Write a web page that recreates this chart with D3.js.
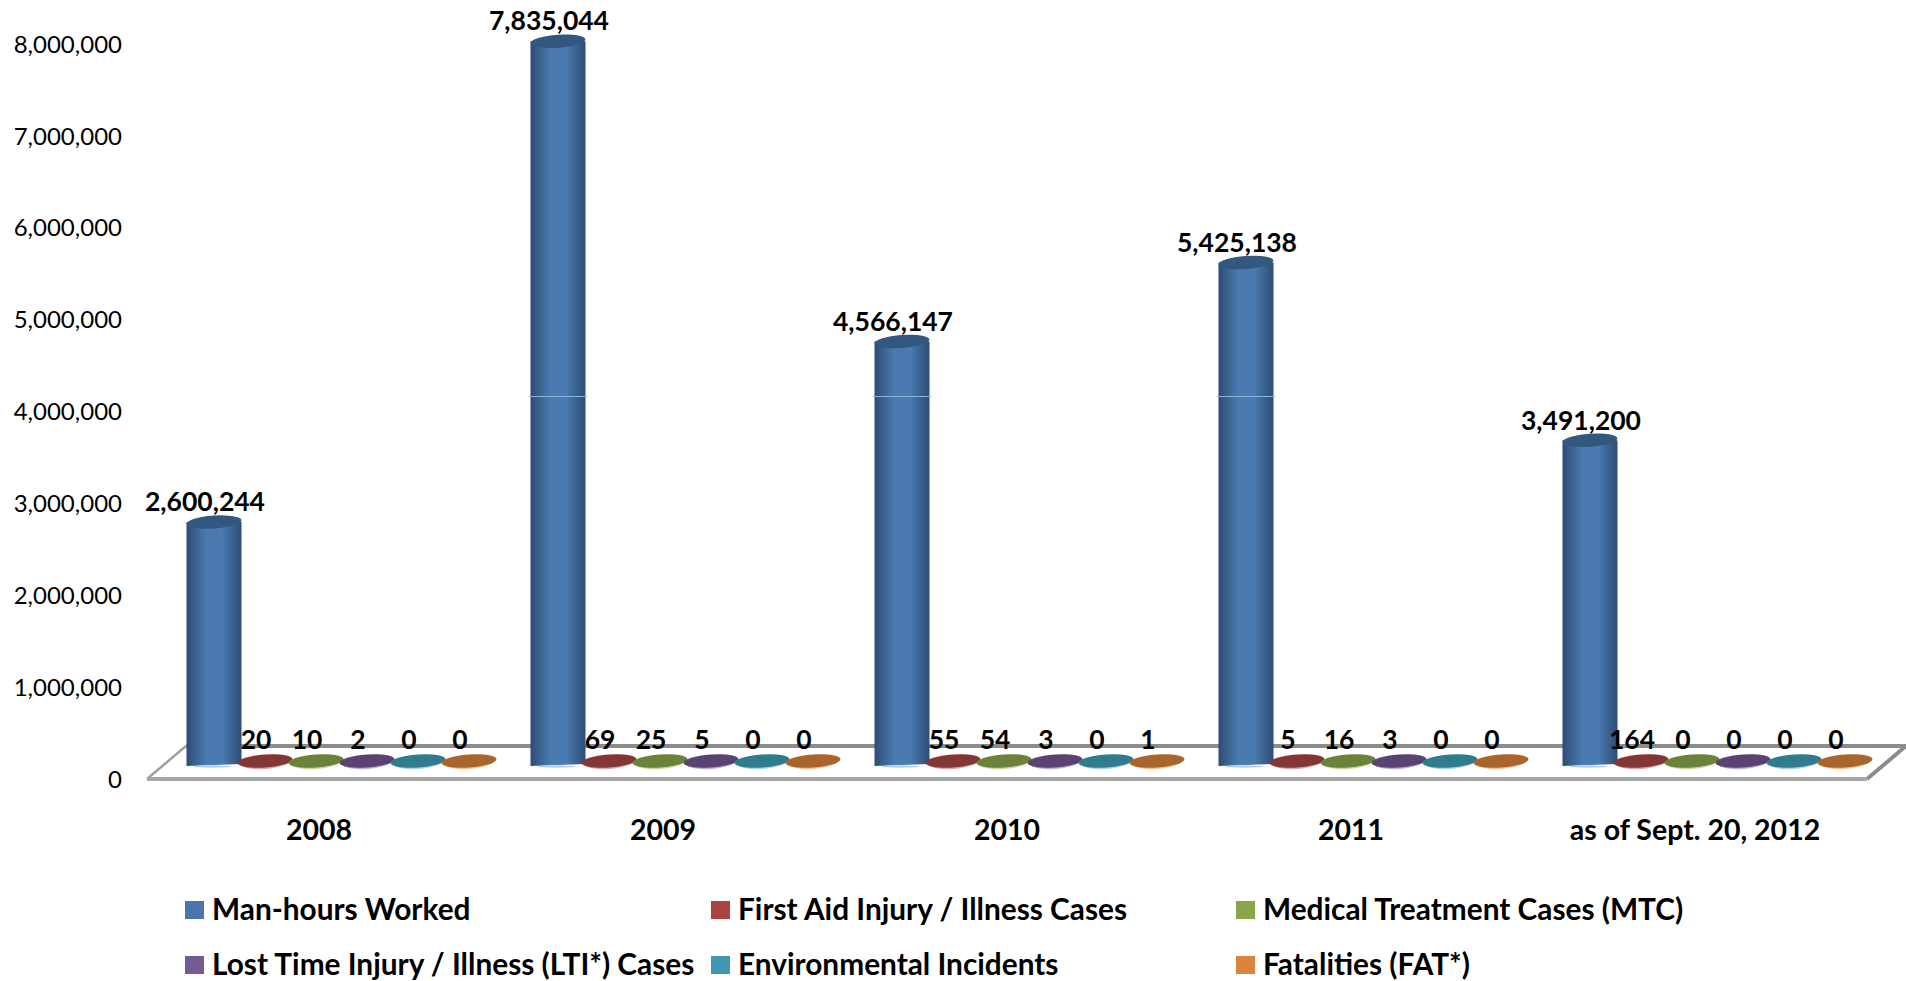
<!DOCTYPE html>
<html>
<head>
<meta charset="utf-8">
<script src="https://cdnjs.cloudflare.com/ajax/libs/d3/7.8.5/d3.min.js"></script>
<style>
  html, body { margin: 0; padding: 0; background: #fff; }
  svg { display: block; }
  text { font-family: Lato, "Noto Sans", sans-serif; fill: #000; }
  .tick text { font-size: 24px; }
  .lbl { font-size: 26.5px; font-weight: 700; text-anchor: middle; }
  .cat { font-size: 28.5px; font-weight: 700; text-anchor: middle; }
  .leg { font-size: 29.8px; font-weight: 700; }
</style>
</head>
<body>
<svg id="chart" width="1906" height="981"></svg>
<script>
const categories = ["2008", "2009", "2010", "2011", "as of Sept. 20, 2012"];
const seriesNames = ["Man-hours Worked", "First Aid Injury / Illness Cases", "Medical Treatment Cases (MTC)",
  "Lost Time Injury / Illness (LTI*) Cases", "Environmental Incidents", "Fatalities (FAT*)"];
const manHours = [2600244, 7835044, 4566147, 5425138, 3491200];
const firstAid = [20, 69, 55, 5, 164];
const medical = [10, 25, 54, 16, 0];
const lostTime = [2, 5, 3, 3, 0];
const environmental = [0, 0, 0, 0, 0];
const fatalities = [0, 0, 1, 0, 0];
const yTicks = [0, 1000000, 2000000, 3000000, 4000000, 5000000, 6000000, 7000000, 8000000];
const allSeries = [manHours, firstAid, medical, lostTime, environmental, fatalities];

const legendColors = ["#4a76ab", "#a94442", "#8aa64c", "#755a94", "#3f97b0", "#db843d"];
const sideColors = ["#2c4d75", "#6e2a2a", "#59702f", "#47335f", "#27677a", "#8f5220"];
const midColors = ["#4a7ab0", "#843535", "#6b8239", "#5a4272", "#317b8f", "#aa652c"];
const topColors = ["#33587f", "#843535", "#6b8239", "#5a4272", "#317b8f", "#aa652c"];
const rimColors = ["#b5cdea", "#d9a9a8", "#c6d6a0", "#bfaed4", "#a3d2e0", "#f0c39c"];

const svg = d3.select("#chart");
const defs = svg.append("defs");

// the front edge of the floor is the axis line, marks sit half way into it
const depthX = 39, depthY = 33;
const markX = 22.5, markY = 18;

const x0 = d3.scaleBand().domain(categories).range([147, 1867]);
const x1 = d3.scaleBand().domain(d3.range(6)).range([-153, 153]);
const y = d3.scaleLinear().domain([0, 8000000]).range([779, 44]);

const yAxis = d3.axisLeft(y).tickValues(yTicks).tickSize(0).tickPadding(0).tickFormat(d3.format(","));
svg.append("g").attr("transform", "translate(122,0)").call(yAxis)
  .call(g => g.select(".domain").remove())
  .selectAll("text").attr("font-family", null).attr("dy", "0.34em");
svg.selectAll(".tick text").attr("x", 0);

// floor
const floor = svg.append("g").attr("fill", "none");
floor.append("line")
  .attr("x1", x0.range()[0] + depthX).attr("x2", x0.range()[1] + depthX)
  .attr("y1", y(0) - depthY).attr("y2", y(0) - depthY)
  .attr("stroke", "#8c8c8c").attr("stroke-width", 4);
floor.append("line")
  .attr("x1", x0.range()[0]).attr("x2", x0.range()[0] + depthX)
  .attr("y1", y(0)).attr("y2", y(0) - depthY)
  .attr("stroke", "#a0a0a0").attr("stroke-width", 2.5);
floor.append("line")
  .attr("x1", x0.range()[1]).attr("x2", x0.range()[1] + depthX)
  .attr("y1", y(0)).attr("y2", y(0) - depthY)
  .attr("stroke", "#8c8c8c").attr("stroke-width", 4);
floor.append("line")
  .attr("x1", x0.range()[0]).attr("x2", x0.range()[1])
  .attr("y1", y(0)).attr("y2", y(0))
  .attr("stroke", "#a6a6a6").attr("stroke-width", 4);

seriesNames.forEach((name, s) => {
  const grad = defs.append("linearGradient").attr("id", "cyl" + s);
  grad.append("stop").attr("offset", "0%").attr("stop-color", sideColors[s]);
  grad.append("stop").attr("offset", "35%").attr("stop-color", midColors[s]);
  grad.append("stop").attr("offset", "65%").attr("stop-color", midColors[s]);
  grad.append("stop").attr("offset", "100%").attr("stop-color", sideColors[s]);
});

const rx = x1.bandwidth() / 2 + 2, ry = 6.5, tilt = -4;
const px = (c, s) => x0(c) + x0.bandwidth() / 2 + x1(s) + x1.bandwidth() / 2 + markX;

categories.forEach((c, i) => {
  allSeries.forEach((vals, s) => {
    const g = svg.append("g").attr("transform", `translate(${px(c, s)},0)`);
    const top = y(vals[i]) - markY, base = y(0) - markY;
    const w = s === 0 ? x1.bandwidth() / 2 + 2 : rx;
    if (s === 0) {
      g.append("path")
        .attr("d", `M${-w},${top}L${w},${top}L${w},${base + 3}L${-w},${base + 5}Z`)
        .attr("fill", `url(#cyl${s})`);
      g.append("ellipse").attr("cx", -2).attr("cy", base + 5.5).attr("rx", w - 8).attr("ry", 1.2)
        .attr("fill", rimColors[s]);
    } else {
      g.append("ellipse").attr("cx", 0).attr("cy", base + 1.5).attr("rx", w - 3).attr("ry", ry)
        .attr("transform", `rotate(${tilt},0,${base})`).attr("fill", rimColors[s]);
    }
    g.append("ellipse").attr("cx", 0).attr("cy", top).attr("rx", w).attr("ry", ry)
      .attr("transform", `rotate(${tilt},0,${top})`).attr("fill", topColors[s]);
  });
});

// faint seam on the tall columns just below the 4,000,000 level
categories.forEach((c, i) => {
  if (manHours[i] > 4000000) {
    svg.append("line")
      .attr("x1", px(c, 0) - 29).attr("x2", px(c, 0) + 29)
      .attr("y1", y(4000000) - markY + 3).attr("y2", y(4000000) - markY + 3)
      .attr("stroke", "#8fb0d8").attr("stroke-width", 1);
  }
});

// data labels
categories.forEach((c, i) => {
  allSeries.forEach((vals, s) => {
    const isMain = s === 0;
    svg.append("text").attr("class", "lbl")
      .attr("x", px(c, s) - 9)
      .attr("y", isMain ? y(vals[i]) - markY - 20 : y(0) - 39)
      .attr("dy", "0.35em")
      .text(d3.format(",")(vals[i]));
  });
});

svg.selectAll(".cat").data(categories).join("text").attr("class", "cat")
  .attr("x", d => x0(d) + x0.bandwidth() / 2)
  .attr("y", 830).attr("dy", "0.35em")
  .text(d => d);

// legend
const legendX = d3.scaleOrdinal().domain([0, 1, 2]).range([185, 711, 1236]);
const legendY = d3.scaleOrdinal().domain([0, 1]).range([910, 965]);
const legend = svg.selectAll(".legItem").data(seriesNames).join("g").attr("class", "legItem")
  .attr("transform", (d, i) => `translate(${legendX(i % 3)},${legendY(Math.floor(i / 3))})`);
legend.append("rect").attr("x", 0).attr("y", -9).attr("width", 19).attr("height", 18)
  .attr("fill", (d, i) => legendColors[i]);
legend.append("text").attr("class", "leg").attr("x", 27).attr("dy", "0.35em").text(d => d);
</script>
</body>
</html>
